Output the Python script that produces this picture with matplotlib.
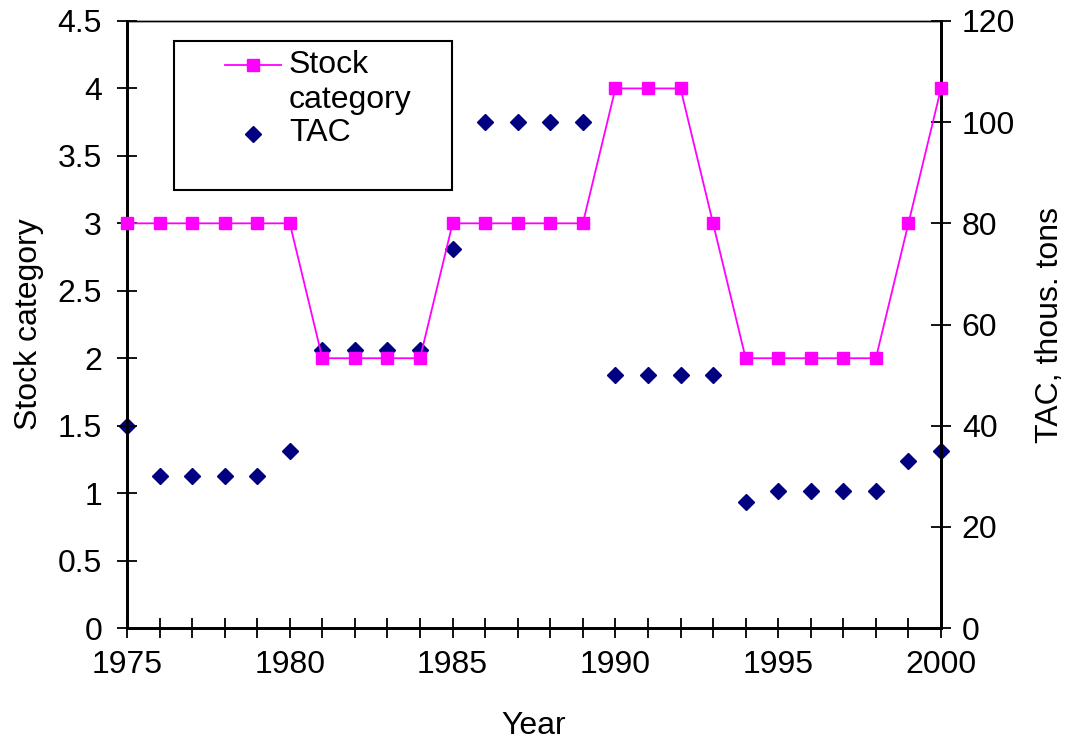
import matplotlib
matplotlib.use("Agg")
import matplotlib.pyplot as plt
from matplotlib.lines import Line2D
from matplotlib.patches import Rectangle

plt.rcParams['font.family'] = ['Liberation Sans', 'DejaVu Sans']
plt.rcParams['font.size'] = 23

years = list(range(1975, 2001))
stock_category = [3, 3, 3, 3, 3, 3,
                  2, 2, 2, 2,
                  3, 3, 3, 3, 3,
                  4, 4, 4,
                  3,
                  2, 2, 2, 2, 2,
                  3, 4]
tac = [40, 30, 30, 30, 30, 35,
       55, 55, 55, 55,
       75, 100, 100, 100, 100,
       50, 50, 50, 50,
       25, 27, 27, 27, 27,
       33, 35]

pink = '#FF00FF'
navy = '#000080'

fig = plt.figure(figsize=(10.7, 7.45), dpi=100)
ax = fig.add_axes([127 / 1070, 1 - 628 / 745, (941 - 127) / 1070, (628 - 21) / 745])
ax2 = ax.twinx()

ax.plot(years, stock_category, color=pink, lw=1.3, marker='s', ms=8,
        mec=pink, mfc=pink, clip_on=False, zorder=3)
ax2.plot(years, tac, ls='none', marker='D', ms=8.5, color=navy, clip_on=False, zorder=4)

ax.set_xlim(1975, 2000)
ax.set_ylim(0, 4.5)
ax2.set_ylim(0, 120)
ax.set_xticks(range(1975, 2001, 5))
ax.set_xticks(years, minor=True)
ax.set_yticks([0, 0.5, 1, 1.5, 2, 2.5, 3, 3.5, 4, 4.5])
ax.set_yticklabels(['0', '0.5', '1', '1.5', '2', '2.5', '3', '3.5', '4', '4.5'])
ax2.set_yticks(range(0, 121, 20))

ax.tick_params(axis='both', which='both', direction='inout', length=14, width=1.3)
ax.tick_params(axis='y', pad=11)
ax.tick_params(axis='x', which='both', pad=9)
ax2.tick_params(axis='y', direction='inout', length=14, width=1.3, pad=8)

ax.set_zorder(ax2.get_zorder() + 1)
ax.patch.set_visible(False)

for a in (ax, ax2):
    a.spines['top'].set_linewidth(1.0)
    a.spines['left'].set_linewidth(2.0)
    a.spines['bottom'].set_linewidth(2.0)
    a.spines['right'].set_linewidth(2.0)

ax.set_xlabel('Year', labelpad=22)
ax.set_ylabel('Stock category', labelpad=10)
ax2.set_ylabel('TAC, thous. tons', labelpad=14)

# legend box, drawn by hand to keep the wrapped label layout
fig.patches.append(Rectangle((174 / 1070, 1 - 190 / 745), (452 - 174) / 1070, (190 - 41) / 745,
                             transform=fig.transFigure, fill=False, ec='black', lw=1.5, zorder=5))
fig.add_artist(Line2D([225 / 1070, 281 / 1070], [1 - 65 / 745, 1 - 65 / 745],
                      transform=fig.transFigure, color=pink, lw=1.3))
fig.add_artist(Line2D([253 / 1070], [1 - 65 / 745], transform=fig.transFigure,
                      color=pink, marker='s', ms=8, ls='none'))
fig.add_artist(Line2D([253 / 1070], [1 - 134 / 745], transform=fig.transFigure,
                      color=navy, marker='D', ms=8.5, ls='none'))
fig.text(289 / 1070, 1 - 65 / 745, 'Stock', va='center', ha='left')
fig.text(289 / 1070, 1 - 100 / 745, 'category', va='center', ha='left')
fig.text(289 / 1070, 1 - 133 / 745, 'TAC', va='center', ha='left')

fig.savefig('out.png', dpi=100)
